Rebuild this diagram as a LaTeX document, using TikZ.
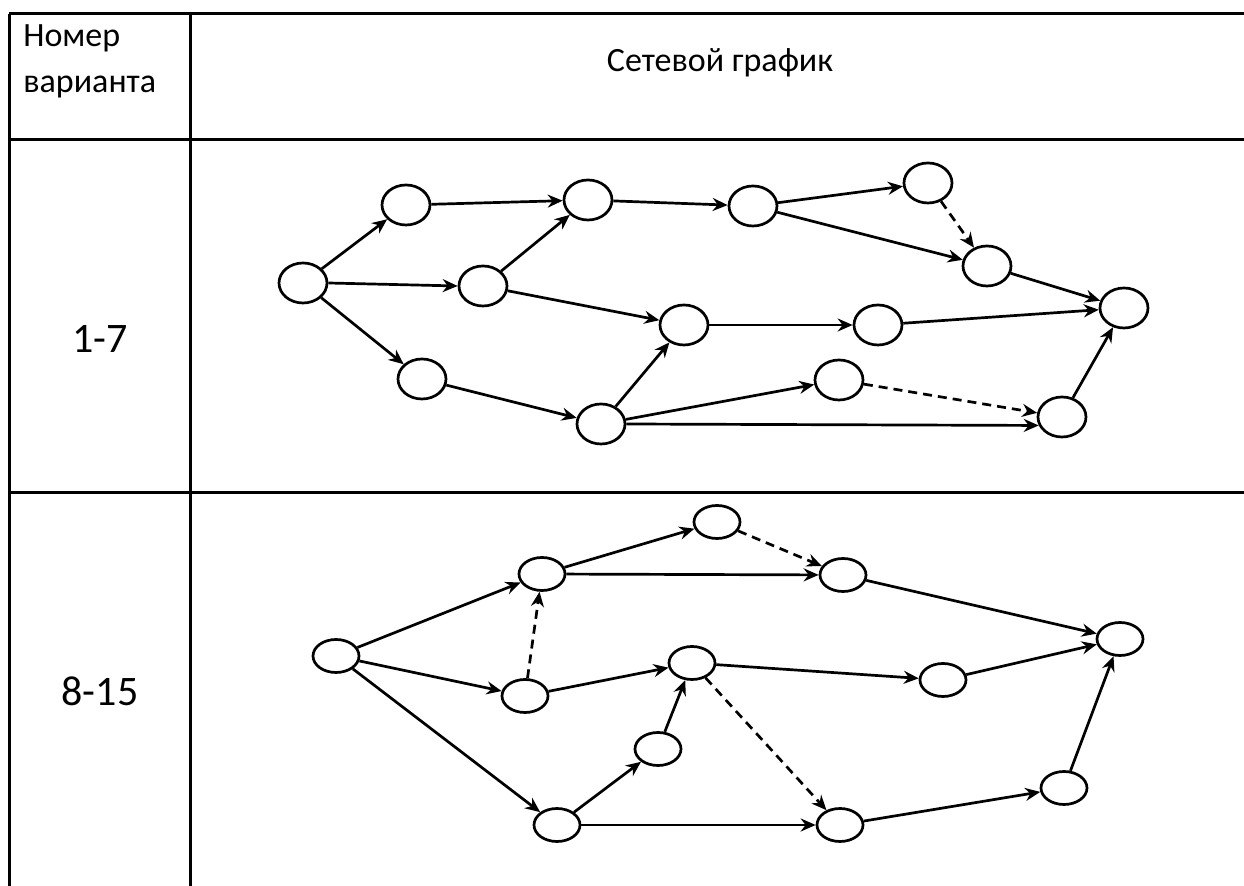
\documentclass[tikz,border=0pt]{standalone}
\usepackage{fontspec}
\setmainfont{Carlito}
\usetikzlibrary{shapes.geometric,arrows.meta}
\begin{document}
\begin{tikzpicture}[x=0.5pt,y=-0.5pt,
  grid/.style={line width=1.5pt},
  ev/.style={ellipse,draw,line width=1.35pt,minimum width=24pt,minimum height=20pt,inner sep=0pt,fill=white},
  evb/.style={ellipse,draw,line width=1.35pt,minimum width=23pt,minimum height=16.5pt,inner sep=0pt,fill=white},
  act/.style={line width=1.35pt,-{Stealth[length=7.5pt,width=6.5pt,inset=2.5pt]}},
  dum/.style={act,dash pattern=on 4.5pt off 3pt},
  hdr/.style={font=\fontsize{17}{20}\selectfont,inner sep=0pt,anchor=base},
  num/.style={font=\fontsize{21}{25}\selectfont,inner sep=0pt,anchor=base}]
\useasboundingbox (0,0) rectangle (1244,886);
% table
\coordinate (tl) at (9,14); \coordinate (tr) at (1244,14);
\coordinate (bl) at (9,886); \coordinate (cm) at (190,14); \coordinate (cb) at (190,886);
\coordinate (h1l) at (9,140); \coordinate (h1r) at (1244,140);
\coordinate (h2l) at (9,493); \coordinate (h2r) at (1244,493);
\draw[grid] (tl) -- (tr);
\draw[grid] (tl) -- (bl);
\draw[grid] (cm) -- (cb);
\draw[grid] (h1l) -- (h1r);
\draw[grid] (h2l) -- (h2r);
% texts
\node[hdr,anchor=base west] (t1) at (23,47) {Номер};
\node[hdr,anchor=base west] (t2) at (23,93) {варианта};
\node[hdr] (t3) at (720,72) {Сетевой график};
\node[num] (n1) at (100,353) {1-7};
\node[num] (n2) at (100,706) {8-15};
% graph 1
\node[ev] (A) at (303,283) {};
\node[ev] (B) at (406,205) {};
\node[ev] (C) at (483,286) {};
\node[ev] (D) at (588,200) {};
\node[ev] (E) at (422,379) {};
\node[ev] (F) at (684,325) {};
\node[ev] (G) at (601,424) {};
\node[ev] (H) at (753,206) {};
\node[ev] (I) at (928,183) {};
\node[ev] (J) at (987,266) {};
\node[ev] (K) at (1124,308) {};
\node[ev] (L) at (878,325) {};
\node[ev] (M) at (839,380) {};
\node[ev] (N) at (1062,417) {};
\draw[act] (A) -- (B);
\draw[act] (A.east) -- (C.west);
\draw[act] (A) -- (E);
\draw[act] (B) -- (D);
\draw[act] (C) -- (D);
\draw[act] (C) -- (F);
\draw[act] (E) -- (G);
\draw[act] (D) -- (H);
\draw[act] (H) -- (I);
\draw[act] (H) -- (J);
\draw[dum] (I) -- (J);
\draw[act] (J) -- (K);
\draw[act] (F) -- (L);
\draw[act] (L) -- (K);
\draw[act] (G) -- (F);
\draw[act] (G) -- (M);
\draw[act] (G.east) -- (N.200);
\draw[dum] (M) -- (N);
\draw[act] (N) -- (K);
% graph 2
\node[evb] (P) at (336,656) {};
\node[evb] (Q) at (542,574) {};
\node[evb] (R) at (525,696) {};
\node[evb] (S) at (717,522) {};
\node[evb] (T) at (692,663) {};
\node[evb] (U) at (658,749) {};
\node[evb] (V) at (557,825) {};
\node[evb] (W) at (843,575) {};
\node[evb] (X) at (1120,639) {};
\node[evb] (Y) at (943,680) {};
\node[evb] (Z) at (840,825) {};
\node[evb] (AA) at (1064,788) {};
\draw[act] (P) -- (Q);
\draw[act] (P) -- (R);
\draw[act] (P) -- (V);
\draw[dum] (R) -- (Q);
\draw[act] (Q) -- (S);
\draw[act] (Q) -- (W);
\draw[dum] (S) -- (W);
\draw[act] (R) -- (T);
\draw[act] (V) -- (U);
\draw[act] (U) -- (T);
\draw[act] (V) -- (Z);
\draw[act] (T) -- (Y);
\draw[dum] (T) -- (Z);
\draw[act] (W) -- (X);
\draw[act] (Y) -- (X);
\draw[act] (Z) -- (AA);
\draw[act] (AA) -- (X);
\end{tikzpicture}
\end{document}
